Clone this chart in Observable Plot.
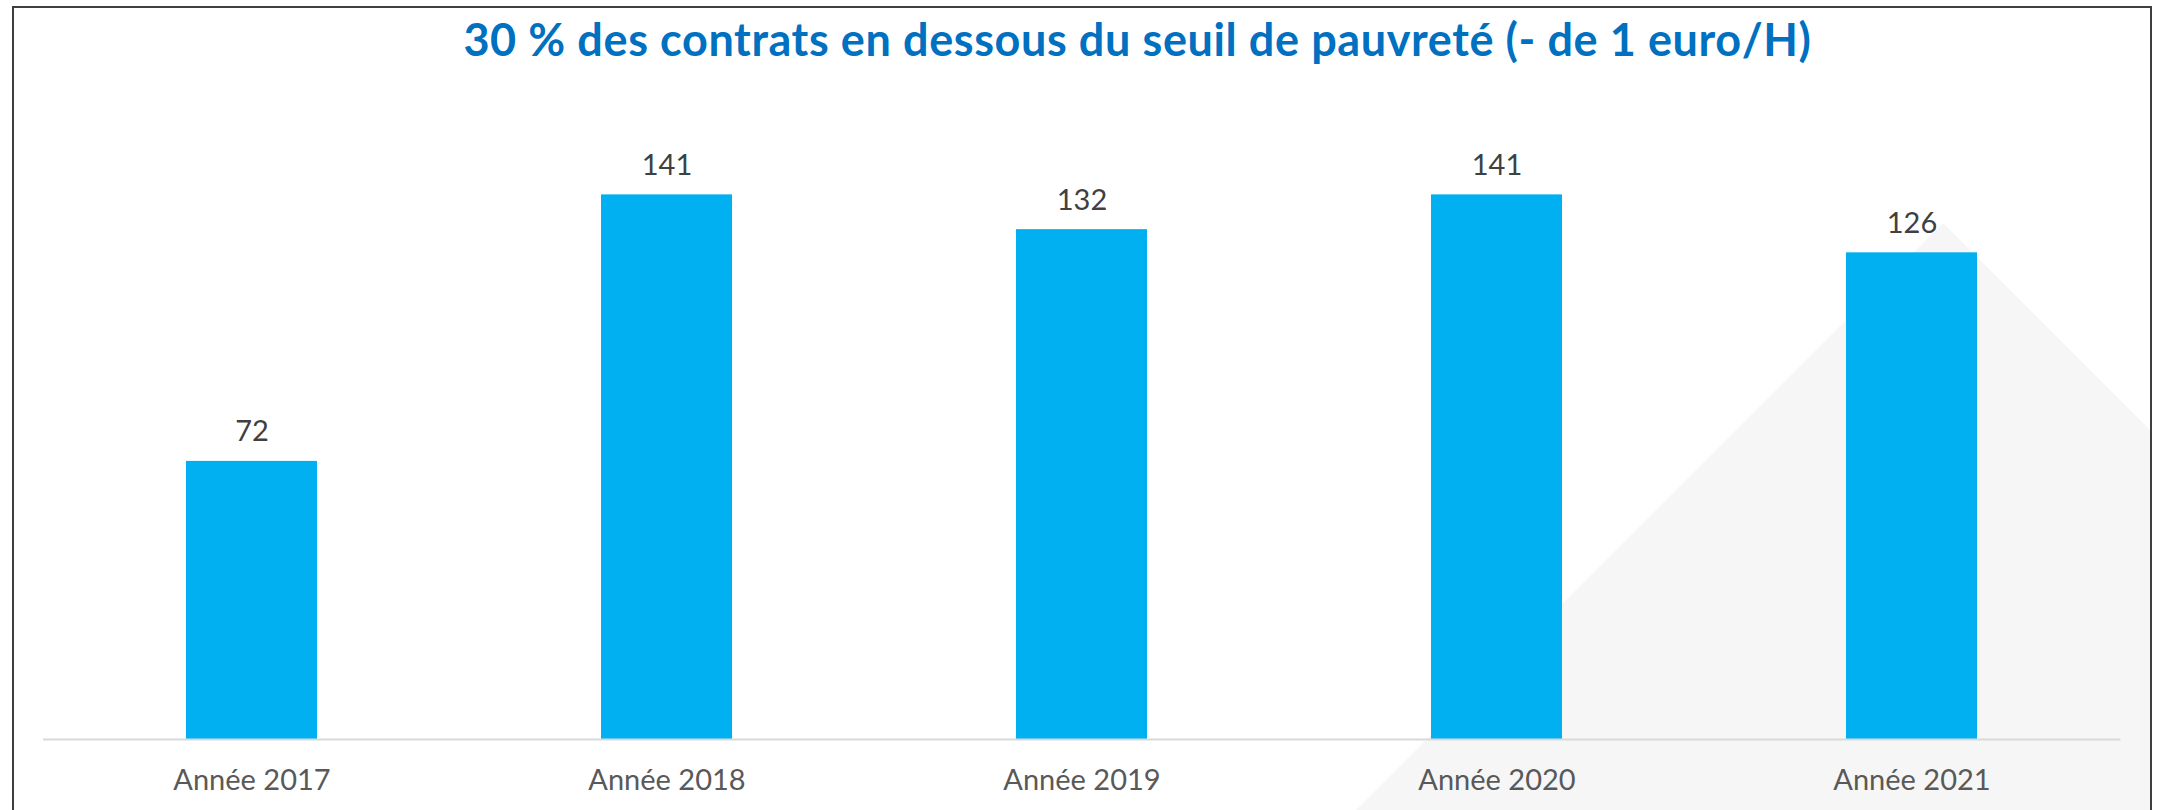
<!DOCTYPE html>
<html><head><meta charset="utf-8">
<script src="https://cdn.jsdelivr.net/npm/d3@7"></script>
<script src="https://cdn.jsdelivr.net/npm/@observablehq/plot@0.6"></script>
<style>
html,body{margin:0;padding:0;background:#fff;overflow:hidden}
#wrap{position:relative;width:2162px;height:810px;overflow:hidden;background:#fff}
#tri{position:absolute;left:0;top:0;width:2150px;height:810px;background:#F6F6F6;clip-path:polygon(1943px 223px,2150px 430px,2150px 810px,1356px 810px)}
#frame{position:absolute;left:12px;top:6px;width:2140px;height:900px;border:2px solid #3f3f3f;box-sizing:border-box}
#title{position:absolute;left:1137.5px;top:17px;transform:translateX(-50%);white-space:nowrap;font:700 45px/45px Lato;letter-spacing:0.6px;color:#0070C0}
#chart{position:absolute;left:0;top:70px}
</style>
</head><body>
<div id="wrap">
  <div id="tri"></div>
  <div id="frame"></div>
  <div id="title"></div>
  <div id="chart"></div>
</div>
<script>
const titleText = "30 % des contrats en dessous du seuil de pauvreté (- de 1 euro/H)";
const categories = ["Année 2017", "Année 2018", "Année 2019", "Année 2020", "Année 2021"];
const values = [72, 141, 132, 141, 126];

const data = categories.map((c, i) => ({cat: c, value: values[i]}));
document.getElementById("title").textContent = titleText;

const chart = Plot.plot({
  width: 2162,
  height: 740,
  marginLeft: 43,
  marginRight: 41.5,
  marginTop: 51,
  marginBottom: 71,
  style: {background: "transparent", fontFamily: "Lato", fontSize: "29px", color: "#595959", overflow: "visible"},
  x: {domain: categories, paddingInner: 0.685, paddingOuter: 0.3425, label: null},
  y: {domain: [0, 160], axis: null},
  marks: [
    Plot.barY(data, {x: "cat", y: "value", fill: "#00B0F0"}),
    Plot.ruleY([0], {stroke: "#D9D9D9", strokeWidth: 2}),
    Plot.text(data, {x: "cat", y: "value", text: d => String(d.value), lineAnchor: "bottom", dy: -20, fill: "#404040", fontSize: 29}),
    Plot.axisX({tickSize: 0, tickPadding: 30, fontSize: 29, label: null})
  ]
});
document.getElementById("chart").appendChild(chart);
</script>
</body></html>
